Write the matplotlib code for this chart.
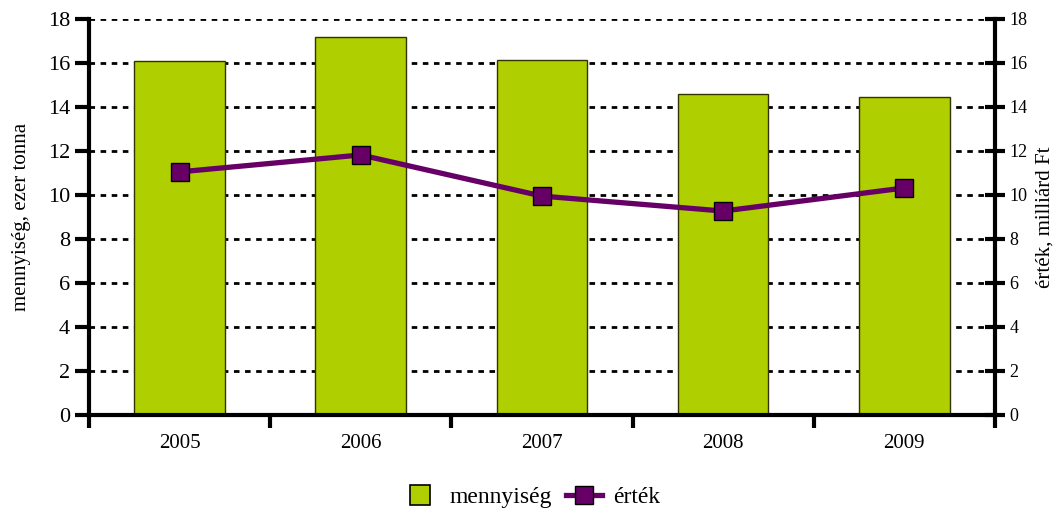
import matplotlib.pyplot as plt
from matplotlib.lines import Line2D
import numpy as np

years = ['2005', '2006', '2007', '2008', '2009']
mennyiseg = [16.1, 17.2, 16.15, 14.6, 14.45]
ertek = [11.05, 11.82, 9.95, 9.27, 10.32]

plt.rcParams['font.family'] = ['Liberation Serif', 'DejaVu Serif']

fig = plt.figure(figsize=(10.63, 5.09), dpi=100)
ax = fig.add_axes([0.0837, 0.1847, 0.8523, 0.778])
x = np.arange(len(years))

ax.set_axisbelow(True)
ax.yaxis.grid(True, color='black', linestyle=(0, (2, 2)), linewidth=2)
bars = ax.bar(x, mennyiseg, width=0.5, color='#b0cf00', edgecolor='#333300',
              linewidth=1, label='mennyiség', zorder=2)
ax.set_xlim(-0.5, len(years) - 0.5)
ax.set_ylim(0, 18)
ax.set_yticks(range(0, 19, 2))
ax.set_xticks(x)
ax.set_xticklabels(years, fontsize=15)
ax.set_xticks(np.arange(-0.5, len(years)), minor=True)
ax.tick_params(axis='x', which='major', length=0, pad=14)
ax.tick_params(axis='x', which='minor', length=9, width=3, direction='out')
ax.tick_params(axis='y', length=10, width=3, direction='out', labelsize=16)
ax.set_ylabel('mennyiség, ezer tonna', fontsize=15, labelpad=12)
ax.spines['top'].set_visible(False)
ax.spines['right'].set_visible(False)
for s in ['left', 'bottom']:
    ax.spines[s].set_linewidth(3)

ax2 = ax.twinx()
line, = ax2.plot(x, ertek, color='#660066', linewidth=3.8, marker='s',
                 markersize=13, markerfacecolor='#660066', markeredgecolor='black',
                 markeredgewidth=1, label='érték', zorder=3)
ax2.set_ylim(0, 18)
ax2.set_yticks(range(0, 19, 2))
ax2.tick_params(axis='y', length=14, width=3, direction='inout', labelsize=13)
ax2.set_ylabel('érték, milliárd Ft', fontsize=15, labelpad=6)
for s in ['top', 'left', 'bottom']:
    ax2.spines[s].set_visible(False)
ax2.spines['right'].set_linewidth(3)

bar_handle = Line2D([], [], linestyle='none', marker='s', markersize=15,
                    markerfacecolor='#b0cf00', markeredgecolor='black',
                    markeredgewidth=1.2)
fig.legend([bar_handle, line], ['mennyiség', 'érték'], loc='lower center',
           bbox_to_anchor=(0.5, -0.04), ncol=2, frameon=False, fontsize=17,
           handlelength=1.5, columnspacing=0.6, handletextpad=0.5)

fig.savefig('out.png', dpi=100)
